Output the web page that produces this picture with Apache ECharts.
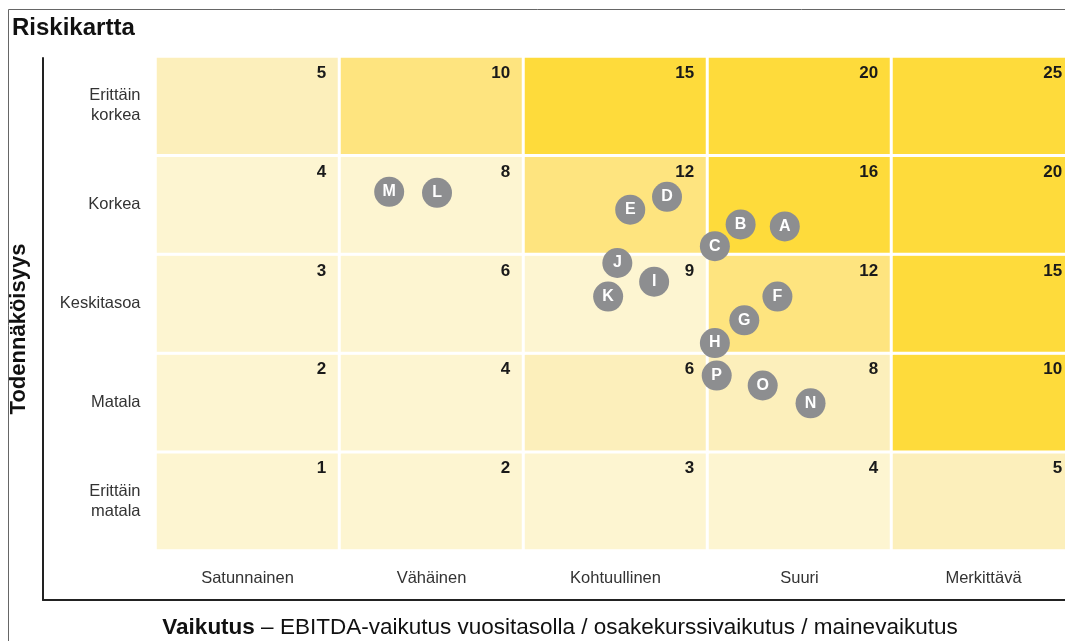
<!DOCTYPE html>
<html>
<head>
<meta charset="utf-8">
<script src="https://cdn.jsdelivr.net/npm/echarts@6/dist/echarts.min.js"></script>
<style>
  html, body { margin: 0; padding: 0; background: #fff; }
  #chart { width: 1065px; height: 641px; }
</style>
</head>
<body>
<div id="chart"></div>
<script>
// impact (x) and probability (y, bottom to top)
const impactLabels = ['Satunnainen', 'Vähäinen', 'Kohtuullinen', 'Suuri', 'Merkittävä']
const probLabels = ['Erittäin\nmatala', 'Matala', 'Keskitasoa', 'Korkea', 'Erittäin\nkorkea']

// risk class of each cell, row by row from bottom (1 = lowest, 4 = highest)
const cellLevels = [
  [1, 1, 1, 1, 2],
  [1, 1, 2, 2, 4],
  [1, 1, 1, 3, 4],
  [1, 1, 3, 4, 4],
  [2, 3, 4, 4, 4]
]

// risks: letter, impact position, probability position (0..5 scale)
const riskNames = ['A', 'B', 'C', 'D', 'E', 'F', 'G', 'H', 'I', 'J', 'K', 'L', 'M', 'N', 'O', 'P']
const riskImpact = [3.42, 3.18, 3.04, 2.78, 2.58, 3.38, 3.20, 3.04, 2.71, 2.51, 2.46, 1.53, 1.27, 3.56, 3.30, 3.05]
const riskProb = [3.28, 3.30, 3.08, 3.58, 3.45, 2.57, 2.33, 2.10, 2.72, 2.91, 2.57, 3.62, 3.63, 1.49, 1.67, 1.77]

const levelColors = { 1: '#fdf5d1', 2: '#fcefbb', 3: '#fee47f', 4: '#fedb3b' }
const font = '"Liberation Sans", Arial, sans-serif'

const chart = echarts.init(document.getElementById('chart'))

const cells = []
for (let y = 0; y < 5; y++) {
  for (let x = 0; x < 5; x++) {
    cells.push({
      value: [x, y, (x + 1) * (y + 1)],
      itemStyle: { color: levelColors[cellLevels[y][x]] }
    })
  }
}

const risks = riskNames.map((n, i) => [riskImpact[i], riskProb[i], n])

const option = {
  animation: false,
  textStyle: { fontFamily: font },
  title: {
    text: 'Riskikartta',
    left: 7,
    top: 11,
    textStyle: { fontSize: 24, fontWeight: 'bold', color: '#111', fontFamily: font }
  },
  graphic: [
    {
      type: 'rect',
      shape: { x: 8.5, y: 9.5, width: 1200, height: 800 },
      style: { fill: 'none', stroke: '#666', lineWidth: 1 },
      silent: true
    }
  ],
  grid: [
    { left: 155.5, top: 56.5, width: 920, height: 494, outerBoundsMode: 'none', containLabel: false },
    { left: 43, top: 58, width: 1034, height: 542, outerBoundsMode: 'none', containLabel: false }
  ],
  xAxis: [
    {
      type: 'category',
      gridIndex: 0,
      data: impactLabels,
      axisLine: { show: false },
      axisTick: { show: false },
      splitLine: { show: false },
      axisLabel: { margin: 19, fontSize: 16.5, color: '#333' }
    },
    {
      type: 'value',
      gridIndex: 0,
      min: 0,
      max: 5,
      show: false
    },
    {
      type: 'value',
      gridIndex: 1,
      min: 0,
      max: 1,
      axisLine: { show: true, lineStyle: { color: '#222', width: 2 } },
      axisTick: { show: false },
      axisLabel: { show: false },
      splitLine: { show: false },
      name: '{b|Vaikutus} – EBITDA-vaikutus vuositasolla / osakekurssivaikutus / mainevaikutus',
      nameLocation: 'middle',
      nameGap: 16,
      nameTextStyle: {
        fontSize: 22.5,
        color: '#111',
        rich: { b: { fontSize: 22.5, fontWeight: 'bold', color: '#111' } }
      }
    }
  ],
  yAxis: [
    {
      type: 'category',
      gridIndex: 0,
      data: probLabels,
      axisLine: { show: false },
      axisTick: { show: false },
      splitLine: { show: false },
      axisLabel: { margin: 15, fontSize: 16.5, color: '#333', lineHeight: 20, align: 'right' }
    },
    {
      type: 'value',
      gridIndex: 0,
      min: 0,
      max: 5,
      show: false
    },
    {
      type: 'value',
      gridIndex: 1,
      min: 0,
      max: 1,
      axisLine: { show: true, lineStyle: { color: '#222', width: 2 } },
      axisTick: { show: false },
      axisLabel: { show: false },
      splitLine: { show: false },
      name: 'Todennäköisyys',
      nameLocation: 'middle',
      nameRotate: 90,
      nameGap: 13,
      nameTextStyle: { fontSize: 22, fontWeight: 'bold', color: '#111' }
    }
  ],
  series: [
    {
      type: 'heatmap',
      xAxisIndex: 0,
      yAxisIndex: 0,
      data: cells,
      itemStyle: { borderColor: '#fff', borderWidth: 3 },
      label: {
        show: true,
        position: 'insideTopRight',
        distance: 10,
        offset: [-5, 0],
        fontSize: 17,
        fontWeight: 'bold',
        color: '#1a1a1a',
        formatter: p => p.value[2]
      },
      emphasis: { disabled: true }
    },
    {
      type: 'scatter',
      xAxisIndex: 1,
      yAxisIndex: 1,
      data: risks,
      symbolSize: 30,
      itemStyle: { color: '#8d8e90', opacity: 1 },
      label: {
        show: true,
        position: 'inside',
        color: '#fff',
        fontSize: 16,
        fontWeight: 'bold',
        formatter: p => p.value[2]
      },
      z: 5
    }
  ]
}

chart.setOption(option)
</script>
</body>
</html>
